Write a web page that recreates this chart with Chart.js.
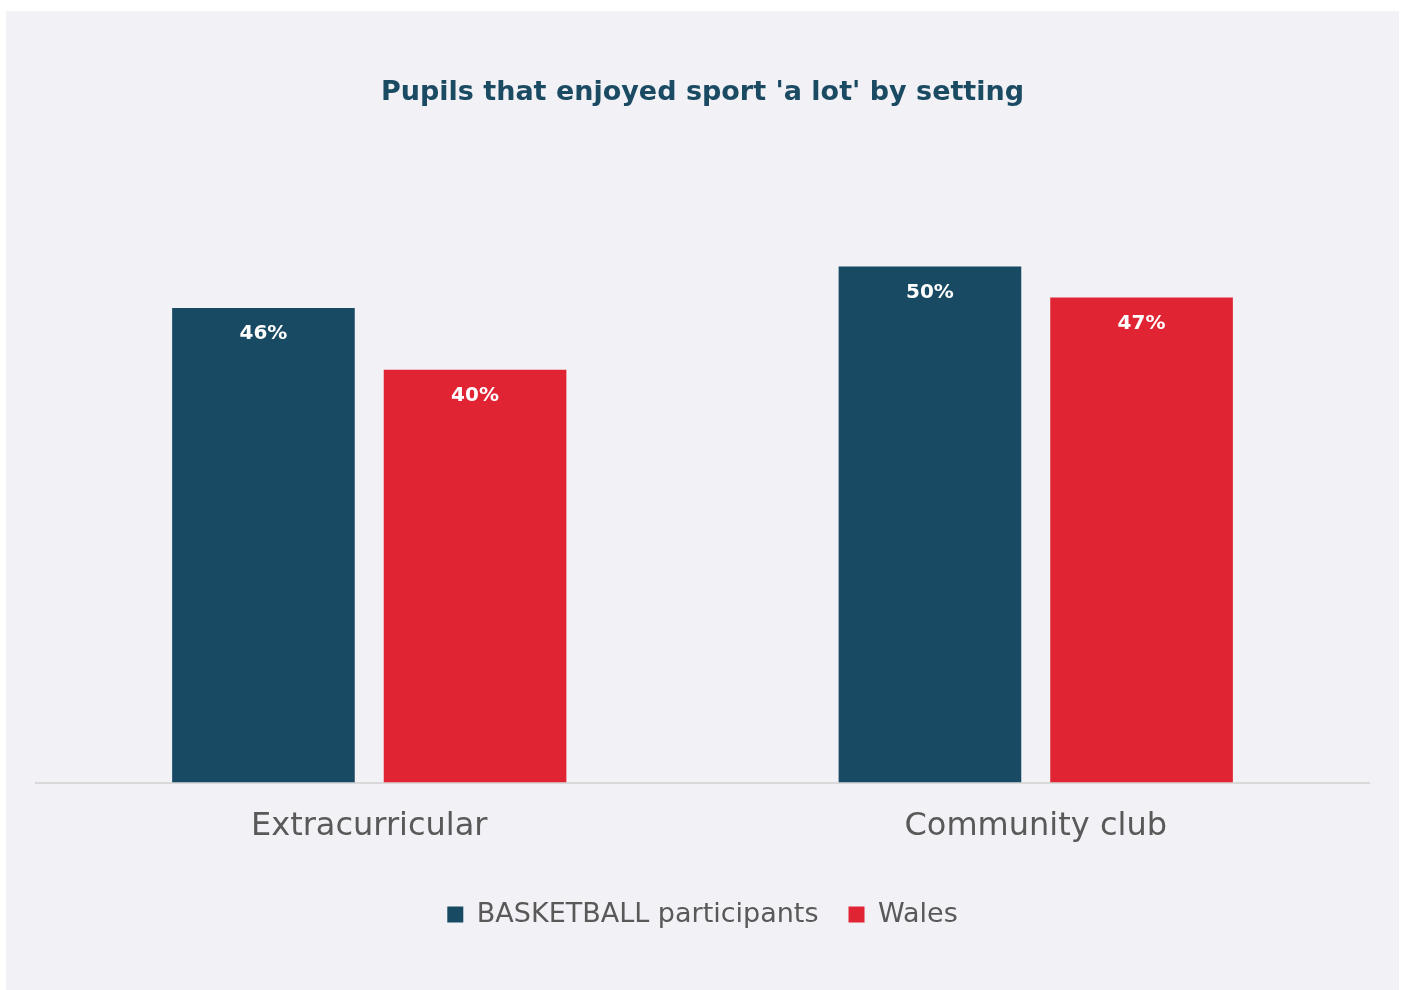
<!DOCTYPE html>
<html>
<head>
<meta charset="utf-8">
<script src="https://cdn.jsdelivr.net/npm/chart.js@4.4.1/dist/chart.umd.min.js"></script>
<style>
  html, body { margin: 0; padding: 0; background: #ffffff; }
  #panel { position: absolute; left: 6px; top: 11px; width: 1393px; height: 979px; background: #f1f1f6; }
</style>
</head>
<body>
<div id="panel"><canvas id="myChart" width="1393" height="979"></canvas></div>
<script>
var categories = ["Extracurricular", "Community club"];
var basketball = [46, 50];
var wales = [40, 47];
var seriesNames = ["BASKETBALL participants", "Wales"];
var seriesColors = ["#194a63", "#e02433"];

var fontName = "'DejaVu Sans', sans-serif";

// white value labels just under the top of each bar
var barLabels = {
  id: "barLabels",
  afterDatasetsDraw: function(chart) {
    var ctx = chart.ctx;
    ctx.save();
    ctx.fillStyle = "#ffffff";
    ctx.font = "bold 20px " + fontName;
    ctx.textAlign = "center";
    ctx.textBaseline = "middle";
    chart.data.datasets.forEach(function(ds, i) {
      var meta = chart.getDatasetMeta(i);
      meta.data.forEach(function(bar, j) {
        ctx.fillText(ds.data[j] + "%", bar.x, bar.y + 26);
      });
    });
    ctx.restore();
  }
};

var chart = new Chart("myChart", {
  type: "bar",
  data: {
    labels: categories,
    datasets: [{
      label: seriesNames[0],
      data: basketball,
      backgroundColor: seriesColors[0]
    }, {
      label: seriesNames[1],
      data: wales,
      backgroundColor: seriesColors[1]
    }]
  },
  options: {
    responsive: false,
    animation: false,
    categoryPercentage: 0.635,
    barPercentage: 0.863,
    layout: { padding: { left: 30, right: 30, top: 0, bottom: 52 } },
    scales: {
      x: {
        grid: { display: false, drawTicks: false },
        border: { display: true, color: "#d9d9d9", width: 2 },
        ticks: { color: "#595959", font: { family: fontName, size: 32 }, padding: 25 }
      },
      y: {
        display: false,
        min: 0,
        max: 60
      }
    },
    plugins: {
      title: {
        display: true,
        text: "Pupils that enjoyed sport 'a lot' by setting",
        color: "#1b4a63",
        font: { family: fontName, size: 27, weight: "bold" },
        padding: { top: 66, bottom: 54 }
      },
      legend: {
        position: "bottom",
        labels: {
          color: "#595959",
          font: { family: fontName, size: 27 },
          boxWidth: 16,
          boxHeight: 16,
          padding: 30
        }
      },
      tooltip: { enabled: false }
    }
  },
  plugins: [barLabels]
});
</script>
</body>
</html>
